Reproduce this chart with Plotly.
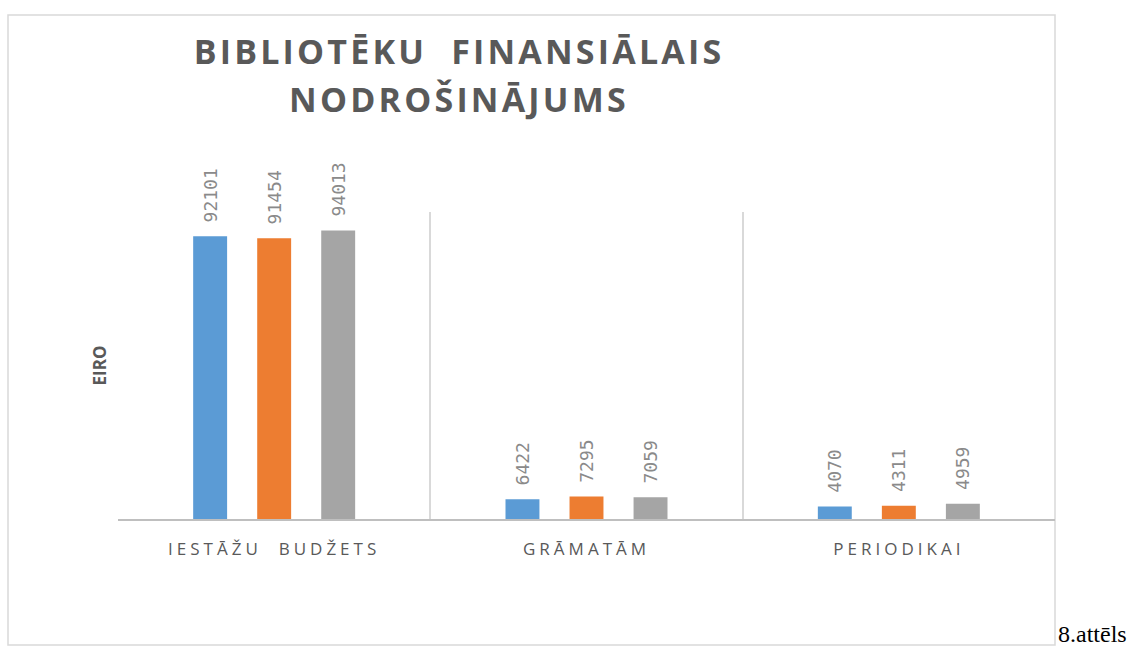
import plotly.graph_objects as go

categories = ["IESTĀŽU  BUDŽETS", "GRĀMATĀM", "PERIODIKAI"]
series_names = ["Sērija 1", "Sērija 2", "Sērija 3"]
series_values = [
    [92101, 6422, 4070],
    [91454, 7295, 4311],
    [94013, 7059, 4959],
]
colors = ["#5b9bd5", "#ed7d31", "#a5a5a5"]

fig = go.Figure()
for name, vals, col in zip(series_names, series_values, colors):
    fig.add_trace(go.Bar(
        x=categories, y=vals, name=name,
        marker=dict(color=col, line=dict(width=0)),
        texttemplate="\u00a0%{y:.0f}",
        textposition="outside", textangle=-90,
        textfont=dict(family="DejaVu Sans Mono", size=18, color="#8a8a8a"),
        cliponaxis=False, constraintext="none",
    ))

W, H = 1136, 646
L, R, T, B = 118, 81, 212, 127
pw, ph = W - L - R, H - T - B

def px(x):
    return (x - L) / pw

def py(y):
    return (H - B - y) / ph

fig.update_layout(
    width=W, height=H,
    margin=dict(l=L, r=R, t=T, b=B),
    paper_bgcolor="white", plot_bgcolor="white",
    barmode="group", bargap=0.385, bargroupgap=0.47,
    showlegend=False,
    title=dict(
        text="BIBLIOTĒKU  FINANSIĀLAIS<br>NODROŠINĀJUMS",
        x=px(459), xref="paper", xanchor="center",
        y=1 - 64 / H, yref="container", yanchor="middle",
        font=dict(family="Open Sans", size=34, color="#595959", weight="bold"),
    ),
    xaxis=dict(
        showgrid=True, gridcolor="#d9d9d9", gridwidth=1.5,
        tickson="boundaries", ticks="",
        showline=True, linecolor="#bfbfbf", linewidth=2,
        tickfont=dict(family="Open Sans", size=17, color="#595959"),
        ticklabelstandoff=14,
    ),
    yaxis=dict(
        range=[0, 100000], showgrid=False, zeroline=False,
        showticklabels=False, ticks="",
        title=dict(text="EIRO", standoff=6,
                   font=dict(family="Open Sans", size=17, color="#595959", weight="bold")),
    ),
    shapes=[dict(
        type="rect", xref="paper", yref="paper",
        x0=px(8), x1=px(1055), y0=py(645), y1=py(15),
        line=dict(color="#d9d9d9", width=1.5), fillcolor="rgba(0,0,0,0)", layer="below",
    )],
    annotations=[dict(
        text="8.attēls", xref="paper", yref="paper",
        x=px(1056), y=py(634), xanchor="left", yanchor="middle",
        showarrow=False,
        font=dict(family="Liberation Serif", size=24, color="black"),
    )],
)

post = """
document.body.style.margin='0';
function spacing(){
  document.querySelectorAll('.xtick text').forEach(function(t){t.style.letterSpacing='4px';});
  document.querySelectorAll('.gtitle').forEach(function(t){
    t.style.letterSpacing='3.2px';
    var lines = t.querySelectorAll('tspan.line');
    for (var i = 1; i < lines.length; i++) { lines[i].setAttribute('dy', '1.41em'); }
  });
}
spacing();
var gd = document.getElementById('{plot_id}');
if (gd && gd.on) { gd.on('plotly_afterplot', spacing); }
"""

fig.write_html("out.html", post_script=post, config={"displayModeBar": False})
